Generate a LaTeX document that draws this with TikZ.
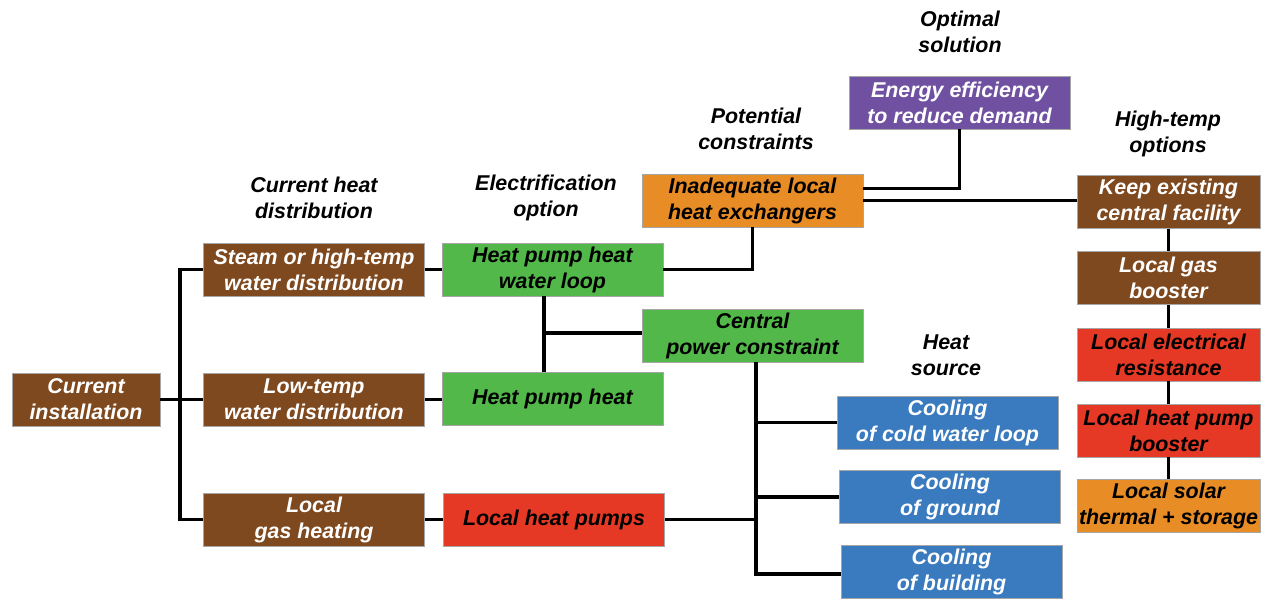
\documentclass[tikz,border=0pt]{standalone}
\usepackage{fontspec}
\setmainfont{Liberation Sans}
\definecolor{cbrown}{RGB}{127,73,31}
\definecolor{cgreen}{RGB}{82,184,74}
\definecolor{corange}{RGB}{232,140,38}
\definecolor{cred}{RGB}{229,57,38}
\definecolor{cblue}{RGB}{58,123,191}
\definecolor{cpurple}{RGB}{112,80,160}
\begin{document}
\begin{tikzpicture}[x=1pt,y=-1pt,
  txt/.style={font=\fontsize{21.4}{26}\selectfont\bfseries\itshape, align=center, inner sep=0pt},
  box/.style={txt, draw=black!35, line width=0.8pt, minimum width=221pt, minimum height=53pt},
  nbox/.style={box, minimum width=183pt},
  brownbox/.style={fill=cbrown, text=white},
  greenbox/.style={fill=cgreen, text=black},
  orangebox/.style={fill=corange, text=black},
  redbox/.style={fill=cred, text=black},
  bluebox/.style={fill=cblue, text=white},
  purplebox/.style={fill=cpurple, text=white},
  hdr/.style={txt, text=black},
  link/.style={line width=3.1pt, black}
]
\useasboundingbox (0,0) rectangle (1262,599);
% headers
\node[hdr] (h1) at (314,198) {Current heat\\distribution};
\node[hdr] (h2) at (546,198) {Electrification\\option};
\node[hdr] (h3) at (756,129) {Potential\\constraints};
\node[hdr] (h4) at (960,32) {Optimal\\solution};
\node[hdr] (h5) at (1168,134) {High-temp\\options};
\node[hdr] (h6) at (946,355) {Heat\\source};
\coordinate (lb) at (180,399.5);
\coordinate (v1) at (544,333);
\coordinate (v2) at (756,574);
% boxes
\node[box,brownbox,minimum width=148pt] (cur) at (86,399.5) {Current\\installation};
\node[box,brownbox] (steam) at (314,269.5) {Steam or high-temp\\water distribution};
\node[box,brownbox] (low) at (314,399.5) {Low-temp\\water distribution};
\node[box,brownbox] (gas) at (314,519.5) {Local\\gas heating};
\node[box,greenbox] (hpl) at (552.5,269.5) {Heat pump heat\\water loop};
\node[box,greenbox] (hph) at (552.5,398.5) {Heat pump heat};
\node[box,redbox] (lhp) at (554,519.5) {Local heat pumps};
\node[box,orangebox] (inad) at (752.5,200.5) {Inadequate local\\heat exchangers};
\node[box,greenbox] (cpc) at (752.5,335.5) {Central\\power constraint};
\node[box,purplebox] (ee) at (959.5,102.5) {Energy efficiency\\to reduce demand};
\node[box,bluebox] (cw) at (947.5,422.5) {Cooling\\of cold water loop};
\node[box,bluebox] (gr) at (950,497) {Cooling\\of ground};
\node[box,bluebox] (bld) at (951.5,571.5) {Cooling\\of building};
\node[nbox,brownbox] (keep) at (1168.5,202) {Keep existing\\central facility};
\node[nbox,brownbox] (gb) at (1168.5,278) {Local gas\\booster};
\node[nbox,redbox] (er) at (1168.5,354.5) {Local electrical\\resistance};
\node[nbox,redbox] (hpb) at (1168.5,430.5) {Local heat pump\\booster};
\node[nbox,orangebox] (sol) at (1168.5,506) {Local solar\\thermal + storage};
% links
\draw[link] (cur.east) -- (lb);
\draw[link] (steam.west) -| (lb) |- (gas.west);
\draw[link] (lb) -- (low.west);
\draw[link] (steam.east) -- (hpl.west);
\draw[link] (low.east) -- (low.east -| hph.west);
\draw[link] (gas.east) -- (lhp.west);
\draw[link] (hpl.east) -| (inad.south);
\draw[link] (hpl.south -| v1) -- (hph.north -| v1);
\draw[link] (v1) -- (v1 -| cpc.west);
\draw[link] (cpc.south -| v2) -- (v2) -- (v2 -| bld.west);
\draw[link] (v2 |- cw.west) -- (cw.west);
\draw[link] (v2 |- gr.west) -- (gr.west);
\draw[link] (lhp.east) -- (lhp.east -| v2);
\draw[link] ([yshift=12pt]inad.east) -| (ee.south);
\draw[link] (inad.east) -- (inad.east -| keep.west);
\draw[link] (keep.south) -- (gb.north);
\draw[link] (gb.south) -- (er.north);
\draw[link] (er.south) -- (hpb.north);
\draw[link] (hpb.south) -- (sol.north);
\end{tikzpicture}
\end{document}
